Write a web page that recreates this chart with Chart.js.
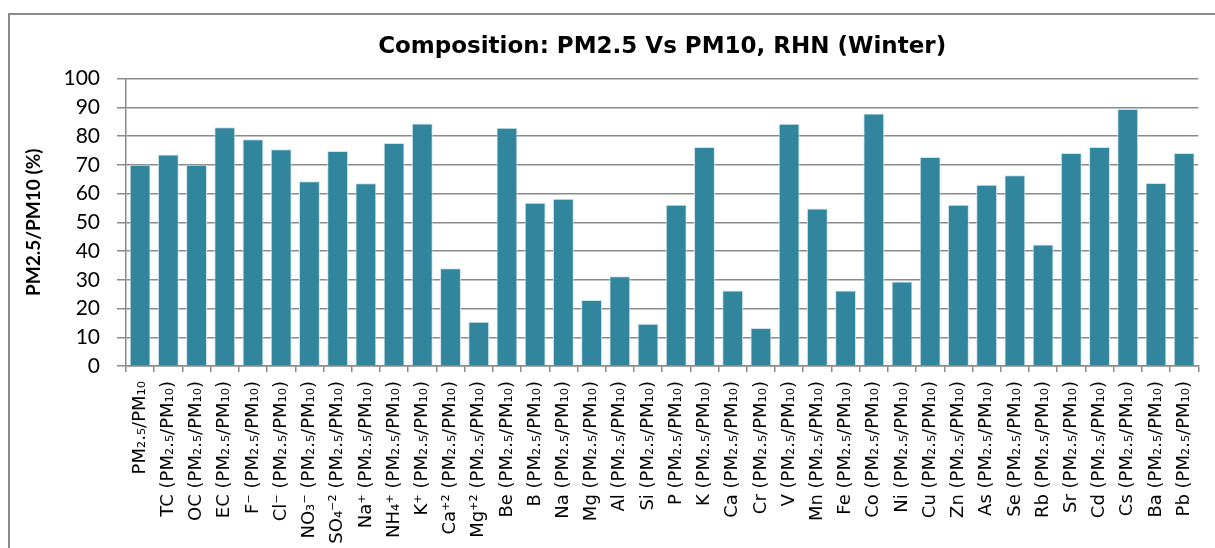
<!DOCTYPE html>
<html>
<head>
<meta charset="utf-8">
<script src="https://cdn.jsdelivr.net/npm/chart.js@4.4.1/dist/chart.umd.min.js"></script>
<style>
    html, body { margin: 0; padding: 0; background: #fff; }
    #wrap { width: 1215px; height: 548px; position: relative; }
</style>
</head>
<body>
<div id="wrap"><canvas id="canvas"></canvas></div>
<script>
const SUFFIX = " (PM₂.₅/PM₁₀)";
const species = [
    "TC", "OC", "EC", "F⁻", "Cl⁻", "NO₃⁻", "SO₄⁻²", "Na⁺", "NH₄⁺", "K⁺", "Ca⁺²", "Mg⁺²",
    "Be", "B", "Na", "Mg", "Al", "Si", "P", "K", "Ca", "Cr", "V", "Mn", "Fe", "Co",
    "Ni", "Cu", "Zn", "As", "Se", "Rb", "Sr", "Cd", "Cs", "Ba", "Pb"
];
const categories = ["PM₂.₅/PM₁₀"].concat(species.map(s => s + SUFFIX));

// PM2.5 / PM10 ratio in percent
const ratios = [
    70.0, 73.6, 70.0, 83.1, 78.9, 75.4, 64.3, 74.8, 63.6, 77.6, 84.4, 34.0, 15.4,
    82.9, 56.8, 58.2, 23.0, 31.2, 14.7, 56.1, 76.2, 26.3, 13.2, 84.3, 54.8, 26.3,
    87.9, 29.4, 72.7, 56.1, 63.1, 66.4, 42.3, 74.1, 76.2, 89.4, 63.7, 74.1
];

const yTicks = [0, 10, 20, 30, 40, 50, 60, 70, 80, 90, 100];

const TITLE = "Composition: PM2.5 Vs PM10, RHN (Winter)";
const Y_TITLE = "PM2.5/PM10 (%)";

const BAR_COLOR = "#31859C";
const GRID_COLOR = "#8a8a8a";

function l(element) {
    return document.getElementById(element);
}

// outer frame of the chart object, runs off the right and bottom edge
const framePlugin = {
    id: "frame",
    beforeDraw(chart) {
        const ctx = chart.ctx;
        ctx.save();
        ctx.fillStyle = "#fff";
        ctx.fillRect(0, 0, chart.width, chart.height);
        ctx.strokeStyle = "#8a8a8a";
        ctx.lineWidth = 2;
        ctx.strokeRect(9, 14, chart.width + 20, chart.height + 20);
        ctx.restore();
    }
};

const chart = new Chart(l("canvas"), {
    type: "bar",
    data: {
        labels: categories,
        datasets: [{
            data: ratios,
            backgroundColor: BAR_COLOR,
            borderColor: "#cfe3ea",
            borderWidth: 1,
            categoryPercentage: 0.74,
            barPercentage: 1.0
        }]
    },
    options: {
        responsive: true,
        maintainAspectRatio: false,
        animation: false,
        devicePixelRatio: 1,
        layout: { padding: { left: 0, right: 13, top: 14, bottom: 0 } },
        plugins: {
            legend: { display: false },
            tooltip: { enabled: false },
            title: {
                display: true,
                text: TITLE,
                fullSize: false,
                color: "#000",
                font: { family: "DejaVu Sans", size: 23, weight: "bold" },
                padding: { top: 19, bottom: 18 }
            }
        },
        scales: {
            x: {
                grid: {
                    display: true,
                    drawOnChartArea: false,
                    drawTicks: true,
                    tickLength: 6,
                    color: GRID_COLOR,
                    lineWidth: 1.5
                },
                border: { display: true, color: GRID_COLOR, width: 1.5 },
                ticks: {
                    autoSkip: false,
                    minRotation: 90,
                    maxRotation: 90,
                    padding: 9,
                    color: "#000",
                    font: { family: "DejaVu Sans", size: 18 }
                },
                afterFit(scale) { scale.height = 182; }
            },
            y: {
                min: 0,
                max: 100,
                afterBuildTicks(scale) {
                    scale.ticks = yTicks.map(v => ({ value: v }));
                },
                grid: {
                    color: GRID_COLOR,
                    lineWidth: 1.5,
                    drawTicks: true,
                    tickLength: 9
                },
                border: { display: true, color: GRID_COLOR, width: 1.5 },
                ticks: {
                    padding: 17,
                    color: "#000",
                    font: { family: "Lato", size: 21 }
                },
                title: {
                    display: true,
                    text: Y_TITLE,
                    color: "#000",
                    font: { family: "Lato", size: 19, weight: "bold" },
                    padding: { top: 22, bottom: 0 }
                },
                afterFit(scale) { scale.width = 126; }
            }
        }
    },
    plugins: [framePlugin]
});
</script>
</body>
</html>
